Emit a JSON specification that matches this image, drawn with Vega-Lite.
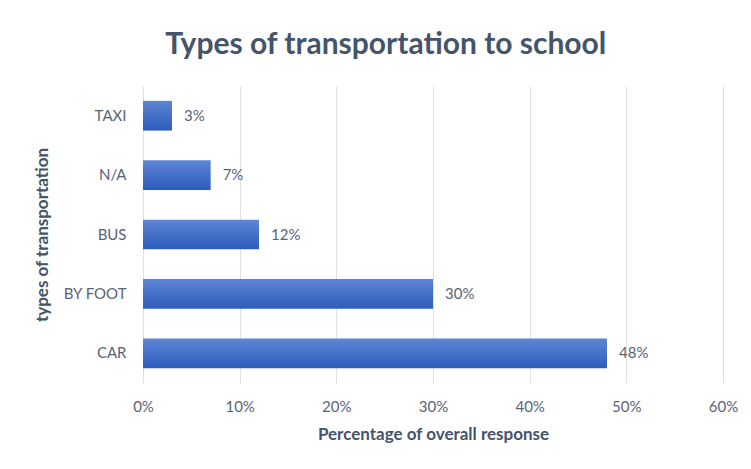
{
  "$schema": "https://vega.github.io/schema/vega-lite/v6.json",
  "width": 580,
  "height": 297,
  "autosize": "none",
  "padding": {"left": 143, "top": 86, "right": 28, "bottom": 86},
  "background": "white",
  "config": {
    "font": "Lato",
    "view": {"stroke": null}
  },
  "title": {
    "text": "Types of transportation to school",
    "fontSize": 30,
    "fontWeight": "bold",
    "color": "#44546A",
    "font": "Lato",
    "anchor": "middle",
    "frame": "bounds",
    "offset": 26
  },
  "data": {
    "values": [
      {"type": "TAXI", "value": 0.03},
      {"type": "N/A", "value": 0.07},
      {"type": "BUS", "value": 0.12},
      {"type": "BY FOOT", "value": 0.30},
      {"type": "CAR", "value": 0.48}
    ]
  },
  "encoding": {
    "y": {
      "field": "type",
      "type": "nominal",
      "sort": null,
      "scale": {"paddingInner": 0.5, "paddingOuter": 0.25},
      "axis": {
        "title": "types of transportation",
        "titleFontSize": 17,
        "titleFontWeight": "bold",
        "titleColor": "#44546A",
        "titlePadding": 11,
        "labelFontSize": 15,
        "labelColor": "#596377",
        "labelPadding": 17,
        "ticks": false,
        "domain": false
      }
    },
    "x": {
      "field": "value",
      "type": "quantitative",
      "scale": {"domain": [0, 0.6]},
      "axis": {
        "format": ".0%",
        "values": [0, 0.1, 0.2, 0.3, 0.4, 0.5, 0.6],
        "labelOverlap": false,
        "labelFlush": false,
        "title": "Percentage of overall response",
        "titleFontSize": 17,
        "titleFontWeight": "bold",
        "titleColor": "#44546A",
        "titlePadding": 12,
        "labelFontSize": 15,
        "labelColor": "#596377",
        "labelPadding": 16,
        "ticks": false,
        "domain": false,
        "grid": true,
        "gridColor": "#e0e0e0"
      }
    }
  },
  "layer": [
    {
      "mark": {
        "type": "bar",
        "color": {
          "gradient": "linear",
          "x1": 0, "y1": 0, "x2": 0, "y2": 1,
          "stops": [
            {"offset": 0, "color": "#5f85d4"},
            {"offset": 1, "color": "#2c5cbd"}
          ]
        }
      }
    },
    {
      "mark": {"type": "text", "align": "left", "dx": 12, "fontSize": 15, "color": "#596377"},
      "encoding": {
        "text": {"field": "value", "type": "quantitative", "format": ".0%"}
      }
    }
  ]
}
